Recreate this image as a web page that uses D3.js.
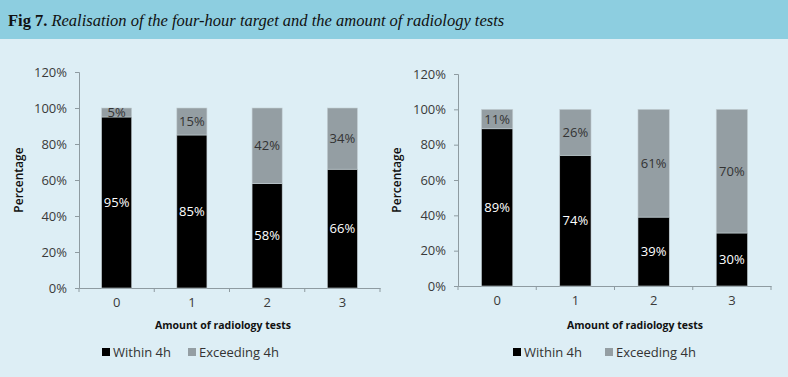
<!DOCTYPE html>
<html>
<head>
<meta charset="utf-8">
<script src="https://cdn.jsdelivr.net/npm/d3@7"></script>
<style>
  body { margin: 0; background: #ddeef5; }
  svg { display: block; }
</style>
</head>
<body>
<svg width="788" height="377"></svg>
<script>
// Data
var categories = ["0", "1", "2", "3"];
var leftWithin = [95, 85, 58, 66];
var leftExceed = [5, 15, 42, 34];
var rightWithin = [89, 74, 39, 30];
var rightExceed = [11, 26, 61, 70];
var yTicks = [0, 20, 40, 60, 80, 100, 120];
var seriesNames = ["Within 4h", "Exceeding 4h"];

var svg = d3.select("svg");
var font = "'Open Sans', sans-serif";
var colors = ["#000000", "#949ea3"];

// Header band
svg.append("rect").attr("x", 0).attr("y", 0).attr("width", 788).attr("height", 39).attr("fill", "#8dcee0");
var title = svg.append("text").attr("x", 8).attr("y", 26)
    .style("font-family", "'Liberation Serif', serif").style("font-size", "16.5px").attr("fill", "#111");
title.append("tspan").style("font-weight", "bold").text("Fig 7.");
title.append("tspan").attr("dx", 4).style("font-style", "italic").text("Realisation of the four-hour target and the amount of radiology tests");

function drawPanel(cfg, within, exceed) {
    var g = svg.append("g");

    var x = d3.scaleBand()
        .domain(categories)
        .range([cfg.x0, cfg.x1])
        .paddingInner(0.6)
        .paddingOuter(0.3);
    var xb = d3.scaleBand().domain(categories).range([cfg.x0, cfg.x1]);

    var y = d3.scaleLinear().domain([0, 120]).range([cfg.y0, cfg.y1]);

    // y axis
    var ya = g.append("g").attr("transform", "translate(" + cfg.x0 + ",0)")
        .call(d3.axisLeft(y).tickValues(yTicks).tickSize(4).tickPadding(8).tickFormat(function(d) { return d + "%"; }));
    ya.selectAll("path, line").attr("stroke", "#8e9ba1");
    ya.selectAll("text").style("font-family", font).style("font-size", "13px").attr("fill", "#3a3a3a");

    // x axis
    var xa = g.append("g").attr("transform", "translate(0," + cfg.y0 + ")")
        .call(d3.axisBottom(xb).tickSize(0).tickPadding(10));
    xa.selectAll("path").attr("stroke", "#8e9ba1");
    xa.selectAll("text").style("font-family", font).style("font-size", "13px").attr("fill", "#3a3a3a");
    g.selectAll(".xtick").data(d3.range(categories.length + 1)).enter().append("line")
        .attr("x1", function(i) { return cfg.x0 + i * xb.step(); })
        .attr("x2", function(i) { return cfg.x0 + i * xb.step(); })
        .attr("y1", cfg.y0).attr("y2", cfg.y0 + 4)
        .attr("stroke", "#8e9ba1");

    var stacked = categories.map(function(c, i) {
        return [{ c: c, y0: 0, y1: within[i], v: within[i], s: 0 },
                { c: c, y0: within[i], y1: within[i] + exceed[i], v: exceed[i], s: 1 }];
    });
    var segs = [].concat.apply([], stacked);

    g.selectAll(".bar").data(segs).enter().append("rect")
        .attr("x", function(d) { return x(d.c); })
        .attr("width", x.bandwidth())
        .attr("y", function(d) { return y(d.y1); })
        .attr("height", function(d) { return y(d.y0) - y(d.y1); })
        .attr("fill", function(d) { return colors[d.s]; })
        .attr("stroke", "#c4cfd4").attr("stroke-width", 0.6);

    g.selectAll(".lbl").data(segs).enter().append("text")
        .attr("x", function(d) { return x(d.c) + x.bandwidth() / 2; })
        .attr("y", function(d) { return (y(d.y0) + y(d.y1)) / 2; })
        .attr("dy", "0.35em")
        .attr("text-anchor", "middle")
        .style("font-family", font).style("font-size", "13px")
        .attr("fill", function(d) { return d.s === 0 ? "#ffffff" : "#333333"; })
        .text(function(d) { return d.v + "%"; });

    // axis titles
    g.append("text")
        .attr("transform", "translate(" + cfg.yTitleX + "," + cfg.yTitleY + ") rotate(-90)")
        .attr("text-anchor", "middle")
        .style("font-family", font).style("font-size", "12px").style("font-weight", "600").attr("fill", "#111")
        .text("Percentage");
    g.append("text").attr("x", cfg.xTitleX).attr("y", cfg.xTitleY)
        .attr("text-anchor", "middle")
        .style("font-family", font).style("font-size", "10.5px").style("font-weight", "bold").attr("fill", "#111")
        .text("Amount of radiology tests");

    // legend
    var lg = g.selectAll(".leg").data(seriesNames).enter().append("g")
        .attr("transform", function(d, i) { return "translate(" + cfg.legX[i] + "," + cfg.legY + ")"; });
    lg.append("rect").attr("x", 0).attr("y", -8).attr("width", 8).attr("height", 8)
        .attr("fill", function(d, i) { return colors[i]; });
    lg.append("text").attr("x", 11).attr("y", 0.5)
        .style("font-family", font).style("font-size", "13px").attr("fill", "#333")
        .text(function(d) { return d; });
}

drawPanel({ x0: 79, x1: 380, y0: 288, y1: 72, yTitleX: 23, yTitleY: 180,
            xTitleX: 223, xTitleY: 329, legX: [102, 188], legY: 356 }, leftWithin, leftExceed);
drawPanel({ x0: 458, x1: 771, y0: 286, y1: 74, yTitleX: 401, yTitleY: 180,
            xTitleX: 635, xTitleY: 329, legX: [513, 605], legY: 356 }, rightWithin, rightExceed);
</script>
</body>
</html>
